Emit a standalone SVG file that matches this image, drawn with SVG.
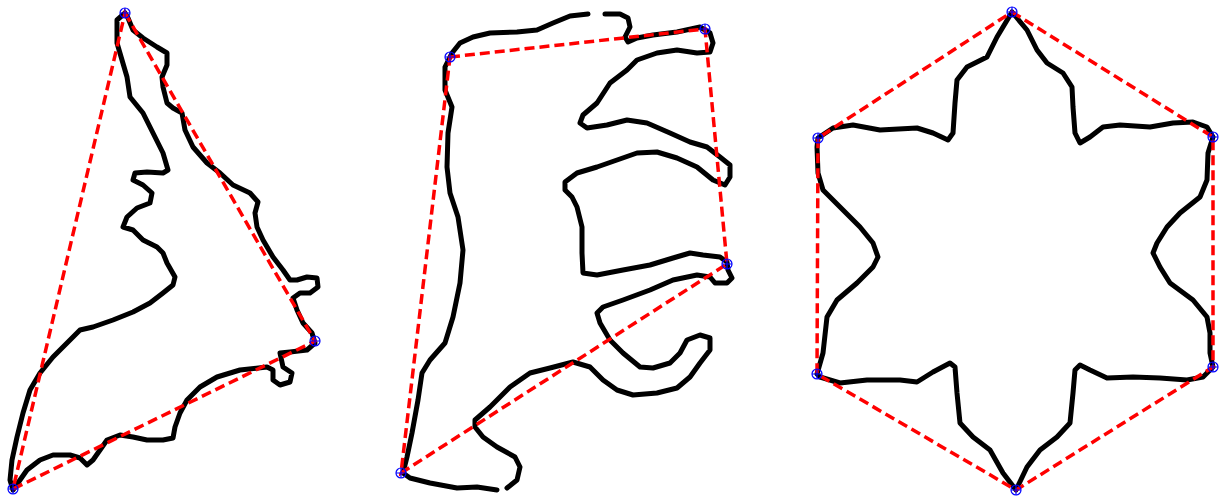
<svg xmlns="http://www.w3.org/2000/svg" width="1227" height="499" viewBox="0 0 1227 499">
<style>
.outline{fill:none;stroke:#000;stroke-width:5;stroke-linejoin:round;stroke-linecap:round}
.hull{fill:none;stroke:#ff0000;stroke-width:3.5;stroke-dasharray:10,5}
.mk{fill:none;stroke:#0000ff;stroke-width:1.2}
</style>
<defs>
<g id="m"><circle class="mk" cx="0" cy="0" r="5"/><path class="mk" d="M-5,0H5M0,-5V5"/></g>
</defs>
<rect width="1227" height="499" fill="#fff"/>
<g id="shape1">
<polygon class="outline" points="125,13 117,20 117,43 127,77 130,97 143,113 153,133 163,153 168,170 163,173 147,172 135,173 133,180 143,185 152,193 150,203 137,208 127,217 123,227 133,230 143,240 157,247 163,253 167,263 175,277 173,285 163,293 150,303 133,312 113,320 93,327 80,330 70,340 63,347 53,357 40,373 30,390 23,413 17,437 12,460 10,480 13,490 20,480 27,470 40,460 53,455 70,455 80,458 87,465 93,460 100,450 107,440 120,435 133,437 147,440 163,440 173,438 175,427 180,413 187,400 200,387 217,377 240,370 267,367 273,370 273,380 280,385 290,382 292,373 283,367 280,353 290,352 307,350 315,343 312,333 303,323 297,310 293,298 300,293 310,293 318,287 317,278 307,277 297,280 290,280 283,270 273,257 263,240 257,227 255,213 258,202 250,193 233,185 220,173 207,163 193,147 185,130 182,113 173,108 167,103 163,87 162,77 167,65 167,53 157,47 143,38 133,30 128,18"/>
<polygon class="hull" points="125,13 315,341 13,489"/>
<use href="#m" x="125" y="13"/><use href="#m" x="315" y="341"/><use href="#m" x="13" y="489"/>
</g>
<g id="shape2">
<polyline class="outline" points="588,14 570,16 553,23 537,30 517,32 490,33 473,37 460,43 452,53 445,67 445,90 452,107 448,133 447,167 450,193 458,217 463,250 460,283 453,317 445,343 430,360 422,373 418,400 412,433 407,457 403,473 410,478 430,483 457,488 477,487 497,490"/>
<polyline class="outline" points="507,488 517,480 520,467 515,457 497,447 483,437 475,427 475,420 490,407 510,387 530,373 550,368 573,362 590,367 603,380 617,390 633,395 657,393 677,388 690,377 700,363 710,350 710,338 700,335 687,340 680,353 670,363 653,368 640,367 623,353 610,340 600,323 597,313 603,307 623,300 650,290 673,280 697,275 710,277 715,283 727,283 732,278 728,270 727,262 720,257 703,255 690,253 673,258 650,265 623,270 597,275 583,273 582,253 582,227 577,207 572,197 565,190 565,182 577,173 597,167 617,160 637,153 657,152 677,158 697,167 713,180 725,185 730,177 730,165 720,157 707,147 690,142 670,133 647,123 627,120 607,125 587,128 580,123 583,115 597,103 610,83 627,70 637,60 657,53 677,50 697,53 710,52 713,43 710,33 700,27 677,32 653,35 637,38 628,42 625,37 630,27 628,18 620,14 605,14"/>
<polygon class="hull" points="450,57 705,29 727,264 401,473"/>
<use href="#m" x="450" y="57"/><use href="#m" x="705" y="29"/><use href="#m" x="727" y="264"/><use href="#m" x="401" y="473"/>
</g>
<g id="shape3">
<polygon class="outline" points="1012,12 1027,30 1037,50 1047,63 1063,73 1072,87 1073,107 1075,133 1080,143 1090,137 1103,127 1120,125 1150,127 1173,123 1193,122 1207,127 1213,137 1208,153 1207,180 1200,197 1180,213 1167,227 1157,243 1153,253 1160,267 1170,283 1193,300 1207,317 1210,333 1210,353 1213,367 1203,377 1187,380 1160,378 1133,377 1107,378 1090,370 1080,365 1075,370 1073,393 1070,423 1057,437 1040,450 1027,467 1016,490 1003,473 990,450 973,437 960,423 957,393 955,367 950,363 933,372 917,382 900,380 867,380 840,383 820,377 817,374 823,353 827,317 837,300 857,283 873,267 878,257 873,243 860,227 840,207 823,190 818,173 817,147 818,138 833,128 853,125 880,130 917,128 933,133 948,140 953,133 955,103 957,80 967,67 987,57 997,37"/>
<polygon class="hull" points="1012,12 1213,137 1213,367 1016,490 817,374 818,138"/>
<use href="#m" x="1012" y="12"/><use href="#m" x="1213" y="137"/><use href="#m" x="1213" y="367"/><use href="#m" x="1016" y="490"/><use href="#m" x="817" y="374"/><use href="#m" x="818" y="138"/>
</g>
</svg>
